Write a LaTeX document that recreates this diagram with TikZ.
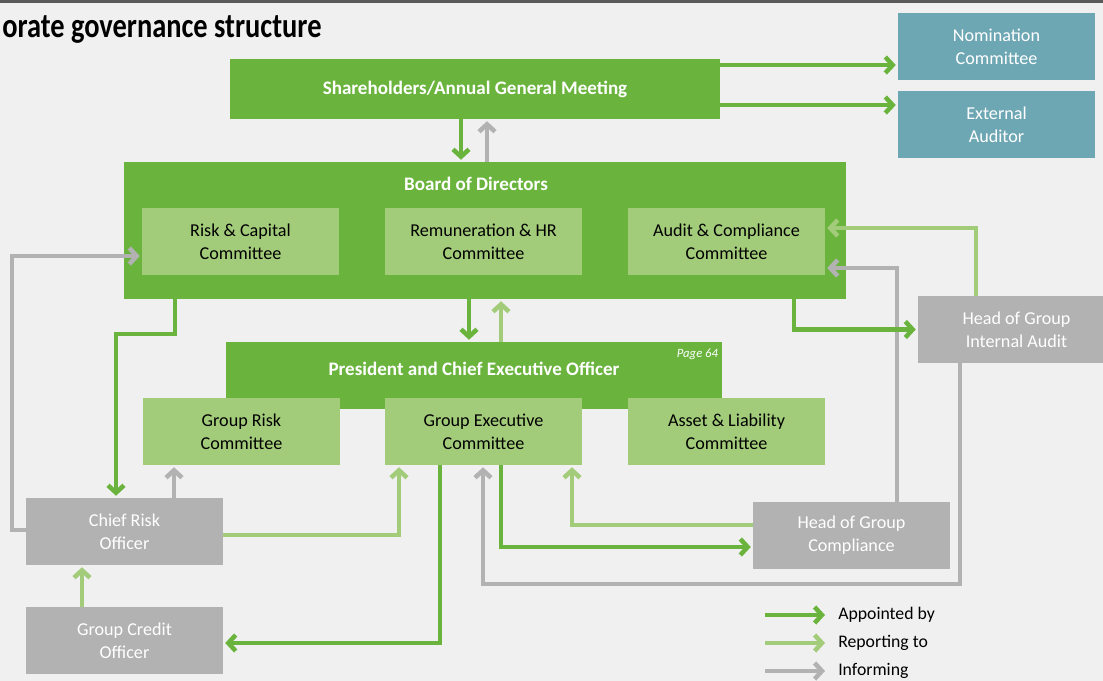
\documentclass[tikz,border=0pt]{standalone}
\usepackage{fontspec}
\setmainfont{Carlito}
\newfontfamily\headfont[FakeStretch=0.82]{Carlito}
\usetikzlibrary{arrows.meta}
\definecolor{leaf_green}{RGB}{106, 180, 62}
\definecolor{pale_green}{RGB}{163, 204, 122}
\definecolor{stone_gray}{RGB}{178, 178, 178}
\definecolor{sea_teal}{RGB}{110, 167, 180}
\definecolor{paper_gray}{RGB}{240, 240, 240}
\definecolor{rule_gray}{RGB}{90, 90, 90}
\def \u {0.75pt}

\begin{document}
\begin{tikzpicture}[
    x=\u, y=-\u,
    % Node styles
    box/.style={
        rectangle,
        fill=#1,
        minimum width=197*\u,
        minimum height=67*\u,
        inner sep=0pt,
        align=center,
        font=\fontsize{13.6}{17.25}\selectfont
    },
    committee/.style={box=pale_green, text=black},
    officer/.style={box=stone_gray, text=white},
    outside/.style={box=sea_teal, text=white},
    body/.style={
        rectangle,
        fill=leaf_green,
        text=white,
        inner sep=0pt,
        align=center,
        font=\bfseries\fontsize{14.3}{17}\selectfont
    },
    legend/.style={
        anchor=west,
        inner sep=0pt,
        font=\fontsize{13.3}{16}\selectfont
    },
    arrow/.style={
        -{Straight Barb[length=5.5pt, width=12pt]},
        line width=3.4pt,
        shorten >=1.5pt,
        draw=#1
    }
]

\path[use as bounding box] (0,0) rectangle (1103,681);
\clip (0,0) rectangle (1103,681);
\fill[paper_gray] (0,0) rectangle (1103,681);
\fill[rule_gray] (0,0) rectangle (1103,3);

\node[anchor=base west, inner sep=0pt, font=\headfont\bfseries\fontsize{26}{30}\selectfont] (title) at (2,38) {orate governance structure};

% Position nodes
\node[body, minimum width=490*\u, minimum height=60*\u] (share) at (475,89) {Shareholders/Annual General Meeting};
\node[outside] (nom) at (996.5,46.5) {Nomination\\Committee};
\node[outside] (ext) at (996.5,124.5) {External\\Auditor};

\node[body, minimum width=722*\u, minimum height=137*\u,
      label={[body, anchor=north, xshift=-9*\u, yshift=-15*\u]north:Board of Directors}] (board) at (485,230.5) {};
\node[committee] (riskcap) at (240.5,241.5) {Risk \& Capital\\Committee};
\node[committee] (remun) at (483.5,241.5) {Remuneration \& HR\\Committee};
\node[committee] (auditc) at (726.5,241.5) {Audit \& Compliance\\Committee};

\node[body, minimum width=496*\u, minimum height=67*\u, text depth=10pt,
      label={[anchor=north east, inner sep=0pt, text=white, font=\itshape\fontsize{9.5}{10}\selectfont, xshift=-4*\u, yshift=-7*\u]north east:Page 64}] (ceo) at (474,375.5) {President and Chief Executive Officer};
\node[committee] (grisk) at (241.5,431.5) {Group Risk\\Committee};
\node[committee] (gexec) at (483.5,431.5) {Group Executive\\Committee};
\node[committee] (alco) at (726.5,431.5) {Asset \& Liability\\Committee};

\node[officer] (haudit) at (1016.5,329.5) {Head of Group\\Internal Audit};
\node[officer] (cro) at (124.5,531.5) {Chief Risk\\Officer};
\node[officer] (hcomp) at (851.5,535.5) {Head of Group\\Compliance};
\node[officer] (gcredit) at (124.5,640.5) {Group Credit\\Officer};

% Shareholders
\draw[arrow=leaf_green] (share.east |- 0,65) -- (nom.west |- 0,65);
\draw[arrow=leaf_green] (share.east |- 0,105) -- (ext.west |- 0,105);
\draw[arrow=leaf_green] (share.south -| 461,0) -- (board.north -| 461,0);
\draw[arrow=stone_gray] (board.north -| 487,0) -- (share.south -| 487,0);

% Board and CEO
\draw[arrow=leaf_green] (board.south -| 469,0) -- (ceo.north -| 469,0);
\draw[arrow=pale_green] (ceo.north -| 501,0) -- (board.south -| 501,0);

% Risk line
\draw[arrow=leaf_green] (board.south -| 175,0) |- (116,334) -- (cro.north -| 116,0);
\draw[arrow=stone_gray] (cro.west |- 0,530) -| (12,256) -- (riskcap.west |- 0,256);
\draw[arrow=stone_gray] (cro.north -| 174,0) -- (grisk.south -| 174,0);
\draw[arrow=pale_green] (cro.east |- 0,535) -| (gexec.south -| 399,0);
\draw[arrow=pale_green] (gcredit.north -| 82,0) -- (cro.south -| 82,0);
\draw[arrow=leaf_green] (gexec.south -| 440,0) |- (gcredit.east |- 0,643);

% Compliance and audit
\draw[arrow=leaf_green] (gexec.south -| 501,0) |- (hcomp.west |- 0,547);
\draw[arrow=pale_green] (hcomp.west |- 0,525) -| (gexec.south -| 572,0);
\draw[arrow=stone_gray] (haudit.south -| 960,0) |- (483,584) -- (gexec.south -| 483,0);
\draw[arrow=stone_gray] (hcomp.north -| 897,0) |- (auditc.east |- 0,268);
\draw[arrow=pale_green] (haudit.north -| 976,0) |- (auditc.east |- 0,228);
\draw[arrow=leaf_green] (board.south -| 794,0) |- (haudit.west);

% Legend
\node[legend] (appointed) at (838,615) {Appointed by};
\node[legend] (reporting) at (838,643) {Reporting to};
\node[legend] (informing) at (838,671) {Informing};
\draw[arrow=leaf_green] ([xshift=-73*\u]appointed.west) -- ([xshift=-11*\u]appointed.west);
\draw[arrow=pale_green] ([xshift=-73*\u]reporting.west) -- ([xshift=-11*\u]reporting.west);
\draw[arrow=stone_gray] ([xshift=-73*\u]informing.west) -- ([xshift=-11*\u]informing.west);

\end{tikzpicture}
\end{document}
